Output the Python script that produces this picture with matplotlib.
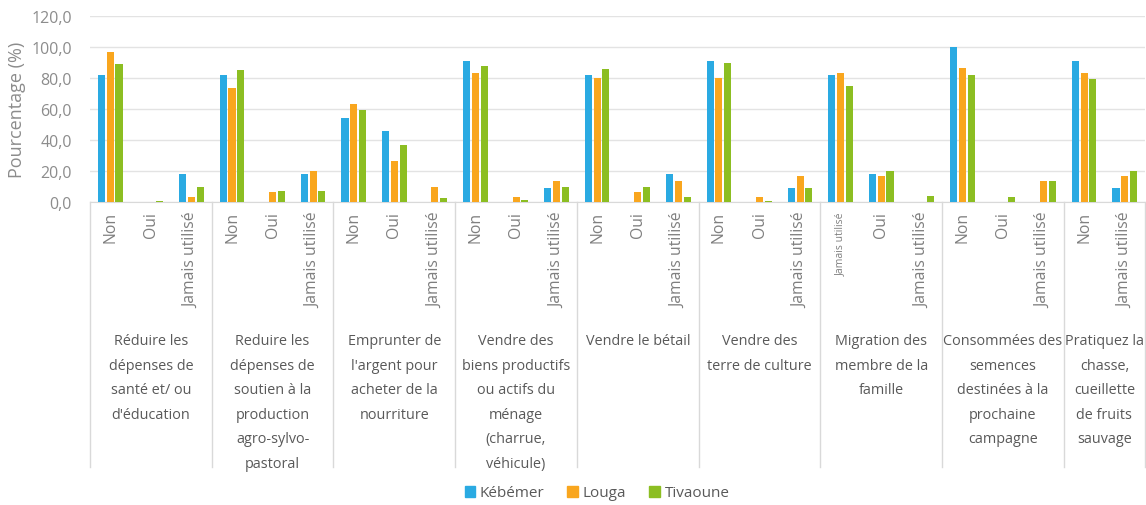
import matplotlib
matplotlib.use("Agg")
import matplotlib.pyplot as plt
from matplotlib.patches import Patch
import numpy as np

plt.rcParams['font.family'] = ['Open Sans', 'DejaVu Sans']

groups = [
    "Réduire les\ndépenses de\nsanté et/ ou\nd'éducation",
    "Reduire les\ndépenses de\nsoutien à la\nproduction\nagro-sylvo-\npastoral",
    "Emprunter de\nl'argent pour\nacheter de la\nnourriture",
    "Vendre des\nbiens productifs\nou actifs du\nménage\n(charrue,\nvéhicule)",
    "Vendre le bétail",
    "Vendre des\nterre de culture",
    "Migration des\nmembre de la\nfamille",
    "Consommées des\nsemences\ndestinées à la\nprochaine\ncampagne",
    "Pratiquez la\nchasse,\ncueillette\nde fruits\nsauvage",
]
subcats = [
    ["Non", "Oui", "Jamais utilisé"],
    ["Non", "Oui", "Jamais utilisé"],
    ["Non", "Oui", "Jamais utilisé"],
    ["Non", "Oui", "Jamais utilisé"],
    ["Non", "Oui", "Jamais utilisé"],
    ["Non", "Oui", "Jamais utilisé"],
    ["Jamais utilisé", "Oui", "Jamais utilisé"],
    ["Non", "Oui", "Jamais utilisé"],
    ["Non", "Jamais utilisé"],
]
series = ["Kébémer", "Louga", "Tivaoune"]
kebemer = [81.8, 0.0, 18.2, 81.8, 0.0, 18.2, 54.5, 45.5, 0.0, 90.9, 0.0, 9.1,
           81.8, 0.0, 18.2, 90.9, 0.0, 9.1, 81.8, 18.2, 0.0, 100.0, 0.0, 0.0,
           90.9, 9.1]
louga = [96.7, 0.0, 3.3, 73.3, 6.7, 20.0, 63.3, 26.7, 10.0, 83.3, 3.3, 13.3,
         80.0, 6.7, 13.3, 80.0, 3.3, 16.7, 83.3, 16.7, 0.0, 86.7, 0.0, 13.3,
         83.3, 16.7]
tivaoune = [88.9, 0.4, 10.0, 85.2, 7.4, 7.4, 59.3, 37.0, 2.5, 87.9, 1.5, 10.0,
            85.7, 10.0, 3.4, 89.5, 0.6, 8.9, 75.0, 20.0, 4.0, 82.1, 3.3, 13.6,
            79.5, 20.0]
colors = ["#2AAAE2", "#F9A61E", "#8CBE22"]

W, H = 1146, 506
fig = plt.figure(figsize=(W / 100, H / 100), dpi=100)
x0, x1, ytop, ybot = 90, 1145, 17, 203
ax = fig.add_axes([x0 / W, 1 - ybot / H, (x1 - x0) / W, (ybot - ytop) / H])

n = len(kebemer)
x = np.arange(n)
bw = 0.175
off = 0.215
for i, (vals, c) in enumerate(zip([kebemer, louga, tivaoune], colors)):
    ax.bar(x + (i - 1) * off, vals, width=bw, color=c, zorder=3)

ax.set_xlim(-0.5, n - 0.5)
ax.set_ylim(0, 120)
ax.set_yticks(np.arange(0, 121, 20))
ax.set_yticklabels([f"{v:.1f}".replace(".", ",") for v in np.arange(0, 121, 20)],
                   color="#8C8C8C", fontsize=11.5)
ax.tick_params(axis="y", length=0, pad=13)
ax.set_xticks([])
ax.grid(axis="y", color="#E3E3E3", linewidth=1, zorder=0)
for s in ["top", "right", "left"]:
    ax.spines[s].set_visible(False)
ax.spines["bottom"].set_color("#D9D9D9")
ax.set_ylabel("Pourcentage (%)", color="#8C8C8C", fontsize=13, labelpad=4)

axh = ybot - ytop
def ay(py):
    return -(py - ybot) / axh

trans = ax.get_xaxis_transform()
pos = 0
bounds = [-0.5]
for g, subs in zip(groups, subcats):
    for j, s in enumerate(subs):
        small = (s == "Jamais utilisé" and j == 0 and len(subs) == 3 and subs[1] == "Oui")
        ax.text(pos + j, ay(212), s, rotation=90, ha="center", va="top",
                fontsize=7.5 if small else 11.3, color="#7F7F7F", transform=trans,
                clip_on=False)
    center = pos + (len(subs) - 1) / 2
    ax.text(center, ay(334), g, ha="center", va="top", fontsize=10.4,
            color="#595959", transform=trans, linespacing=1.87, clip_on=False)
    pos += len(subs)
    bounds.append(pos - 0.5)

for b in bounds:
    ax.plot([b, b], [0, ay(468)], color="#D9D9D9", linewidth=1,
            transform=trans, clip_on=False)

handles = [Patch(color=c) for c in colors]
fig.legend(handles, series, loc="center", bbox_to_anchor=(597 / W, 1 - 494 / H),
           ncol=3, frameon=False, fontsize=11, handlelength=0.7, handleheight=0.7,
           handletextpad=0.3, columnspacing=1.5, labelcolor="#595959")

fig.savefig("out.png", dpi=100)
